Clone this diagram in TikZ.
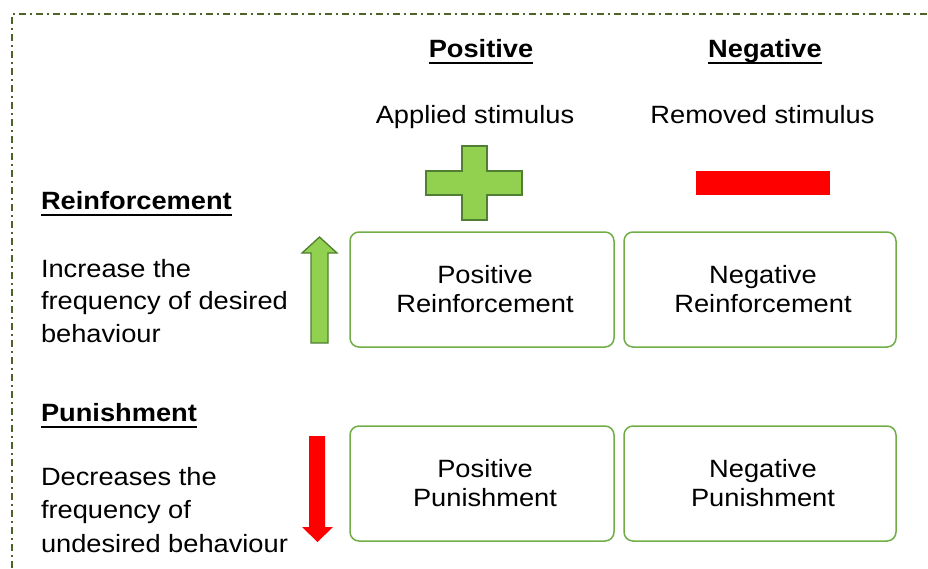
\documentclass[tikz,border=0pt]{standalone}
\usepackage{fontspec}
\setmainfont{Liberation Sans}[FakeStretch=1.09]
\definecolor{lgreen}{HTML}{92D050}
\definecolor{dgreen}{HTML}{507E32}
\definecolor{boxgreen}{HTML}{70AD47}
\definecolor{framecol}{HTML}{4F6228}
\definecolor{myred}{HTML}{FF0000}
\newcommand\cellshift{\hspace*{6pt}}
\begin{document}
\begin{tikzpicture}[x=1pt,y=-1pt,
  every node/.style={inner sep=0pt, outer sep=0pt, font=\fontsize{25}{29}\selectfont},
  txt/.style={anchor=base west},
  ctxt/.style={anchor=base},
  bold/.style={font=\fontsize{25}{29}\selectfont\bfseries},
  cell/.style={draw=boxgreen, line width=1.5pt, rounded corners=9pt, align=center, minimum height=115pt},
  uline/.style={line width=2pt},
  greenshape/.style={fill=lgreen, draw=dgreen, line width=1.3pt},
  redshape/.style={fill=myred, draw=none}
]
\useasboundingbox (0,0) rectangle (928,568);
% frame
\draw[framecol, line width=2pt, dash pattern=on 7pt off 4pt on 2pt off 4pt] (12,568) -- (12,14) -- (928,14);

% column headings
\node[ctxt, bold] (poshead) at (481,57) {Positive};
\node[ctxt, bold] (neghead) at (765,57) {Negative};
\draw[uline] ([yshift=-5.5pt]poshead.base west) -- ([yshift=-5.5pt]poshead.base east);
\draw[uline] ([yshift=-5.5pt]neghead.base west) -- ([yshift=-5.5pt]neghead.base east);
\node[ctxt] (applied) at (475,123) {Applied stimulus};
\node[ctxt] (removed) at (762.5,123) {Removed stimulus};

% plus and minus
\filldraw[greenshape] (462,146) -- (487,146) -- (487,171) -- (522,171) -- (522,195) -- (487,195) -- (487,220) -- (462,220) -- (462,195) -- (426,195) -- (426,171) -- (462,171) -- cycle;
\fill[myred] (696,171) rectangle (830,195);

% row headings
\node[txt, bold] (reinf) at (41,209) {Reinforcement};
\draw[uline] ([yshift=-5.5pt]reinf.base west) -- ([yshift=-5.5pt]reinf.base east);
\node[txt] (r1) at (41,277) {Increase the};
\node[txt] (r2) at (41,309.5) {frequency of desired};
\node[txt] (r3) at (41,342) {behaviour};

\node[txt, bold] (pun) at (41,421) {Punishment};
\draw[uline] ([yshift=-5.5pt]pun.base west) -- ([yshift=-5.5pt]pun.base east);
\node[txt] (p1) at (41,485) {Decreases the};
\node[txt] (p2) at (41,518) {frequency of};
\node[txt] (p3) at (41,552) {undesired behaviour};

% arrows
\filldraw[greenshape] (311,343) -- (311,253) -- (302,253) -- (319.5,237) -- (337,253) -- (328,253) -- (328,343) -- cycle;
\fill[myred] (309,436) -- (325,436) -- (325,527) -- (333,527) -- (317.5,542) -- (302,527) -- (309,527) -- cycle;

% cells
\node[cell, minimum width=264pt] (pr) at (482,289.5) {\cellshift Positive\\\cellshift Reinforcement};
\node[cell, minimum width=272pt] (nr) at (760,289.5) {\cellshift Negative\\\cellshift Reinforcement};
\node[cell, minimum width=264pt] (pp) at (482,483.5) {\cellshift Positive\\\cellshift Punishment};
\node[cell, minimum width=272pt] (np) at (760,483.5) {\cellshift Negative\\\cellshift Punishment};
\end{tikzpicture}
\end{document}
